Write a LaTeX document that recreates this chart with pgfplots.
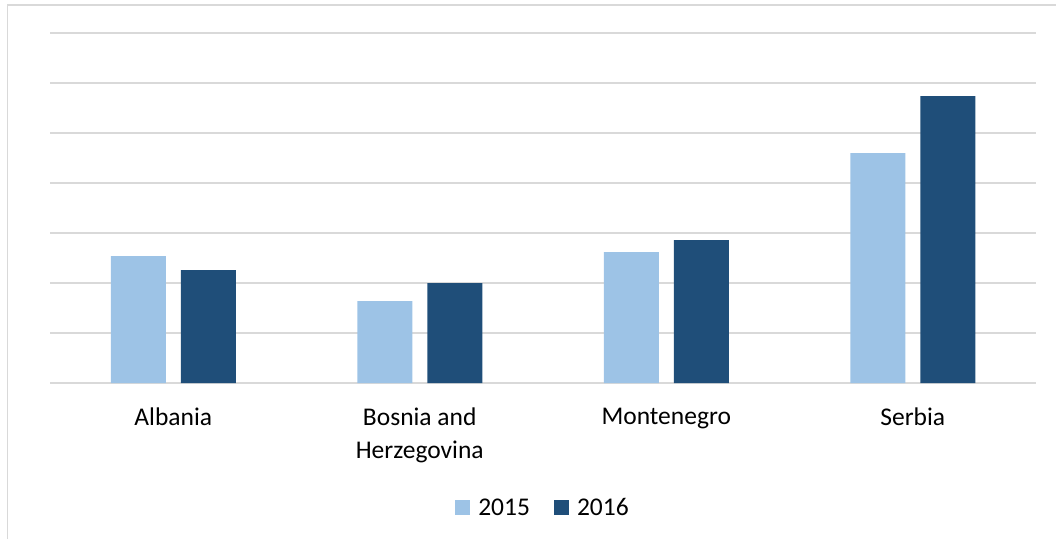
\documentclass[border=0pt]{standalone}
\usepackage{pgfplots}
\pgfplotsset{compat=1.18}
\usepackage{fontspec}
\setmainfont{Carlito}
\definecolor{lightblue}{HTML}{9DC3E6}
\definecolor{darkblue}{HTML}{1F4E79}
\definecolor{gridgray}{HTML}{D9D9D9}
\begin{document}
\begin{tikzpicture}
\path[use as bounding box] (0pt,0pt) rectangle (1056pt,539pt);
\draw[gridgray, line width=1.3pt] (7.5pt,0pt) -- (7.5pt,534pt) -- (1056pt,534pt);
\begin{axis}[
  at={(50pt,156pt)}, anchor=south west,
  width=986pt, height=350pt, scale only axis,
  ymin=0, ymax=7, xmin=-0.5, xmax=3.5,
  ybar=15pt, bar width=55pt,
  ytick={0,1,...,7}, yticklabels={},
  ymajorgrids, major grid style={gridgray, line width=1.3pt},
  axis x line*=bottom, axis y line*=left,
  x axis line style={gridgray, line width=1.3pt, -},
  y axis line style={draw=none},
  xtick={0,1,2,3}, major tick length=0pt,
  xticklabels={Albania, {Bosnia and\\Herzegovina}, Montenegro, Serbia},
  xticklabel style={font=\fontsize{25.5}{33}\selectfont, align=center, anchor=north, inner sep=0pt, yshift=-25pt, text=black},
  legend style={at={(0.5,-0.357)}, anchor=center, draw=none, legend columns=2,
    font=\fontsize{25.5}{30}\selectfont,
    /tikz/every odd column/.append style={column sep=6pt},
    /tikz/every even column/.append style={column sep=22pt}},
  legend image code/.code={\fill[#1] (0pt,-7.5pt) rectangle (15pt,7.5pt);},
]
\addplot[fill=lightblue, draw=none] coordinates {(0,2.54) (1,1.64) (2,2.62) (3,4.60)};
\addplot[fill=darkblue, draw=none] coordinates {(0,2.26) (1,2.00) (2,2.86) (3,5.74)};
\legend{2015,2016}
\end{axis}
\end{tikzpicture}
\end{document}
